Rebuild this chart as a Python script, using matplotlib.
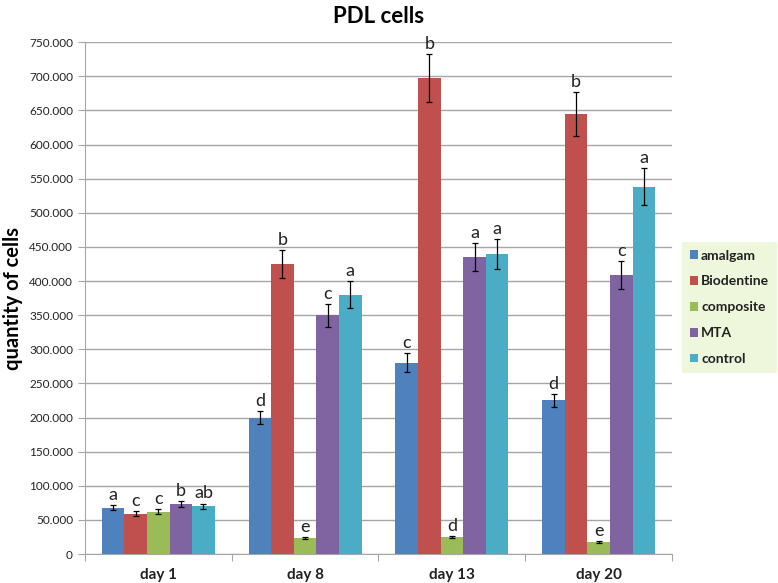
"""
PDL cells - quantity of cells per material over time.
"""

import numpy as np
import matplotlib.pyplot as plt
from matplotlib.ticker import FuncFormatter, MultipleLocator

plt.rcParams["font.family"] = ["Lato", "DejaVu Sans"]

DAYS = ["day 1", "day 8", "day 13", "day 20"]
MATERIALS = ["amalgam", "Biodentine", "composite", "MTA", "control"]
COLORS = ["#4F81BD", "#C0504D", "#9BBB59", "#8064A2", "#4BACC6"]

# values per material, one entry per day
amalgam = [68, 200, 280, 225]
biodentine = [59, 425, 697, 645]
composite = [62, 23, 25, 17]
mta = [73, 350, 435, 409]
control = [70, 380, 440, 538]

amalgam_err = [4, 9, 14, 10]
biodentine_err = [4, 20, 35, 32]
composite_err = [4, 1.5, 1.5, 1.5]
mta_err = [4, 17, 21, 20]
control_err = [4, 20, 22, 27]

amalgam_lab = ["a", "d", "c", "d"]
biodentine_lab = ["c", "b", "b", "b"]
composite_lab = ["c", "e", "d", "e"]
mta_lab = ["b", "c", "a", "c"]
control_lab = ["ab", "a", "a", "a"]

values = [amalgam, biodentine, composite, mta, control]
errors = [amalgam_err, biodentine_err, composite_err, mta_err, control_err]
letters = [amalgam_lab, biodentine_lab, composite_lab, mta_lab, control_lab]

fig = plt.figure(figsize=(7.78, 5.83), dpi=100)
ax = fig.add_axes([0.109, 0.0497, 0.755, 0.878])

x = np.arange(len(DAYS))
width = 0.154
handles = []
for i, (name, col) in enumerate(zip(MATERIALS, COLORS)):
    pos = x + (i - 2) * width
    h = ax.bar(pos, values[i], width, color=col, zorder=3, label=name)
    handles.append(h)
    ax.errorbar(pos, values[i], yerr=errors[i], fmt="none", ecolor="black",
                elinewidth=0.9, capsize=2.5, capthick=0.9, zorder=4)
    for p, v, e, t in zip(pos, values[i], errors[i], letters[i]):
        ax.text(p, v + e + 3, t, ha="center", va="bottom", fontsize=13,
                color="#222222", zorder=5)

ax.set_ylim(0, 750)
ax.set_xlim(-0.5, len(DAYS) - 0.5)
ax.yaxis.set_major_locator(MultipleLocator(50))
ax.yaxis.set_major_formatter(FuncFormatter(lambda v, _: "0" if v == 0 else f"{v:.3f}"))
ax.grid(axis="y", color="#a6a6a6", lw=1.0, zorder=0)

ax.set_xticks(np.arange(len(DAYS) + 1) - 0.5)
ax.set_xticklabels([])
ax.set_xticks(x, minor=True)
ax.set_xticklabels(DAYS, minor=True, fontsize=11, fontweight="bold", color="#222222")
ax.tick_params(axis="x", which="minor", length=0, pad=10)
ax.tick_params(axis="x", which="major", length=5, color="#a6a6a6")
ax.tick_params(axis="y", length=5, color="#a6a6a6", labelsize=8.5, labelcolor="#222222")

for s in ("top", "right"):
    ax.spines[s].set_visible(False)
for s in ("left", "bottom"):
    ax.spines[s].set_color("#a6a6a6")

ax.set_ylabel("quantity of cells", fontsize=14.5, fontweight="bold", labelpad=4)
ax.set_title("PDL cells", fontsize=16, fontweight="bold", pad=14)

leg = fig.legend(handles=handles, labels=MATERIALS, loc="upper left",
                 bbox_to_anchor=(0.877, 0.585), frameon=True, fancybox=False,
                 handlelength=0.55, handleheight=0.55, handletextpad=0.25,
                 labelspacing=1.0, borderpad=0.55, borderaxespad=0,
                 prop={"size": 10, "weight": "bold"})
leg.get_frame().set_facecolor("#eaf5d3")
leg.get_frame().set_edgecolor("none")
for t in leg.get_texts():
    t.set_color("#222222")

fig.savefig("out.png", dpi=100)
